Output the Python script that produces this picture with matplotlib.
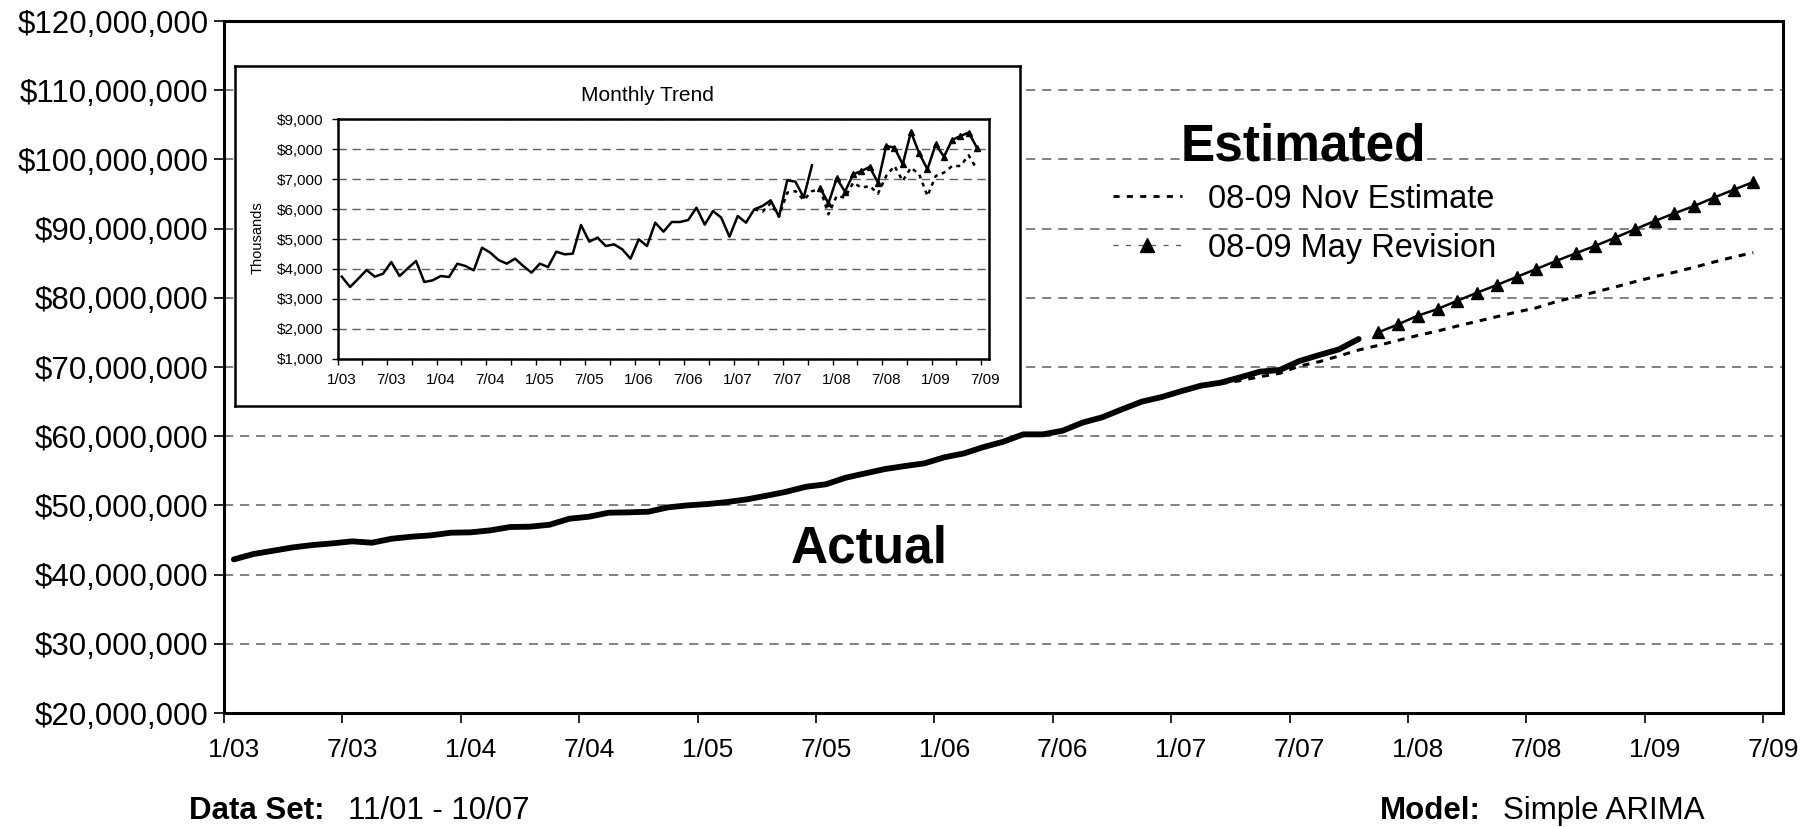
import matplotlib.pyplot as plt
import matplotlib.ticker as tck
from matplotlib.lines import Line2D
import numpy as np

plt.rcParams['font.family'] = ['Liberation Sans', 'DejaVu Sans']

# month index 0 = 1/03; points sit in the middle of their month
tick_labels = ['1/03', '7/03', '1/04', '7/04', '1/05', '7/05', '1/06',
               '7/06', '1/07', '7/07', '1/08', '7/08', '1/09', '7/09']

# 12 month running totals, $ millions
actual_total = [42.2, 42.98, 43.46, 43.94, 44.28, 44.52, 44.81, 44.61, 45.19, 45.48,
                45.68, 46.06, 46.11, 46.40, 46.88, 46.93, 47.21, 48.08, 48.37, 48.95,
                49.00, 49.09, 49.72, 50.01, 50.2, 50.49, 50.88, 51.41, 51.98, 52.70,
                53.05, 54.00, 54.64, 55.26, 55.69, 56.08, 56.95, 57.52, 58.44, 59.21,
                60.27, 60.27, 60.80, 61.96, 62.73, 63.88, 64.99, 65.65, 66.5, 67.3,
                67.74, 68.51, 69.33, 69.57, 70.87, 71.73, 72.55, 74.05]
nov_start = 50
nov_total = [67.6, 68.03, 68.60, 69.09, 70.14, 70.77, 71.59, 72.46,
             73.13, 73.85, 74.57, 75.20, 75.92, 76.60, 77.27, 77.94, 78.55, 79.44,
             80.16, 80.84, 81.56, 82.33, 83.05, 83.69, 84.41, 85.17, 85.90, 86.52]
may_start = 58
may_total = [75.01, 76.17, 77.42, 78.38, 79.58, 80.74, 81.85, 83.01, 84.16, 85.32,
             86.43, 87.53, 88.69, 89.90, 91.10, 92.21, 93.27, 94.47, 95.62, 96.73]

# monthly values, $ thousands
actual_month = [3741, 3396, 3674, 3964, 3741, 3841, 4231, 3763, 4020, 4265,
                3563, 3618, 3763, 3730, 4175, 4097, 3953, 4710, 4543, 4298,
                4175, 4343, 4097, 3875, 4175, 4064, 4577, 4487, 4510, 5468,
                4911, 5045, 4766, 4822, 4655, 4343, 4989, 4766, 5546, 5245,
                5568, 5568, 5635, 6047, 5479, 5936, 5713, 5078, 5769, 5546,
                5992, 6103, 6292, 5747, 6961, 6916, 6382, 7462]
nov_month = [5992, 5914, 6200, 5747, 6549, 6600, 6300, 6600,
             6660, 5824, 6437, 6382, 6883, 6716, 6771, 6515, 7106, 7440,
             6939, 7384, 7162, 6437, 7106, 7217, 7440, 7440, 7797, 7329]
may_month = [6694, 6192, 7028, 6582, 7162, 7273, 7407, 6883, 8109, 8053,
             7496, 8577, 7864, 7329, 8164, 7752, 8309, 8443, 8554, 8053]


def xs(start, vals):
    return np.arange(len(vals)) + start + 0.5


def month_axis(axis, size, pad, length, width, quarter_ticks=False):
    # tick marks at the start of every 6th month, labels centred half a month later
    major = np.arange(0, 79, 6)
    axis.set_xticks(major)
    axis.set_xticklabels([])
    axis.set_xticks(major + 0.5, minor=True)
    axis.set_xticklabels(tick_labels, minor=True)
    axis.tick_params(axis='x', which='major', direction='out', length=length, width=width)
    axis.tick_params(axis='x', which='minor', length=0, labelsize=size, pad=pad + length)
    if quarter_ticks:
        sec = axis.secondary_xaxis('bottom')
        sec.set_xticks(np.arange(3, 79, 6))
        sec.set_xticklabels([])
        sec.tick_params(direction='out', length=length, width=width)
        sec.spines['bottom'].set_visible(False)


def main():
    fig = plt.figure(figsize=(18.18, 8.27), dpi=100)

    # main chart
    ax = fig.add_axes([0.1232, 0.1378, 0.8575, 0.8368])
    ax.plot(xs(0, actual_total), np.array(actual_total) * 1e6, color='black', lw=4.2,
            solid_joinstyle='round', solid_capstyle='round', zorder=3)
    ax.plot(xs(nov_start, nov_total), np.array(nov_total) * 1e6, color='black', lw=2.2,
            linestyle=(0, (2.3, 2.3)), zorder=3)
    ax.plot(xs(may_start, may_total), np.array(may_total) * 1e6, color='black', lw=1.8,
            marker='^', markersize=9, zorder=3)

    ax.set_xlim(0, 79)
    ax.set_ylim(20e6, 120e6)
    month_axis(ax, 19, 11, 7, 1.2)
    ax.set_yticks(np.arange(20e6, 120e6 + 1, 10e6))
    ax.yaxis.set_major_formatter(tck.StrMethodFormatter('${x:,.0f}'))
    ax.tick_params(axis='y', direction='out', length=7, width=1.2, labelsize=22.5, pad=4)
    ax.yaxis.grid(True, color='#5f5f5f', lw=1.1, linestyle=(0, (6, 4.5)))
    ax.set_axisbelow(True)
    for spine in ax.spines.values():
        spine.set_linewidth(2.2)

    ax.text(0.7167, 0.8227, 'Estimated', transform=fig.transFigure, fontsize=37,
            fontweight='bold', ha='center', va='center')
    ax.text(0.478, 0.3356, 'Actual', transform=fig.transFigure, fontsize=37,
            fontweight='bold', ha='center', va='center')

    handles = [Line2D([], [], color='black', lw=2, linestyle=(0, (2.2, 2.6))),
               Line2D([], [], color='#555555', lw=0.9, linestyle=(0, (4, 6)),
                      marker='^', markersize=10, markerfacecolor='black',
                      markeredgecolor='black')]
    ax.legend(handles, ['08-09 Nov Estimate', '08-09 May Revision'],
              loc='upper left', bbox_to_anchor=(0.6122, 0.778),
              bbox_transform=fig.transFigure, frameon=False, fontsize=23.5,
              handlelength=2.1, handletextpad=0.8, labelspacing=0.55,
              borderpad=0, borderaxespad=0)

    # footer
    fig.text(0.104, 0.019, 'Data Set:', fontsize=22.5, fontweight='bold', va='center')
    fig.text(0.1914, 0.019, '11/01 - 10/07', fontsize=22.5, va='center')
    fig.text(0.759, 0.019, 'Model:', fontsize=22.5, fontweight='bold', va='center')
    fig.text(0.8267, 0.019, 'Simple ARIMA', fontsize=22.5, va='center')

    # inset frame
    box = fig.add_axes([0.12926, 0.50907, 0.43179, 0.41112], zorder=3)
    box.set_xticks([])
    box.set_yticks([])
    for spine in box.spines.values():
        spine.set_linewidth(1.8)

    # inset chart
    ins = fig.add_axes([0.18575, 0.56626, 0.35842, 0.28948], zorder=4)
    ins.plot(xs(0, actual_month), actual_month, color='black', lw=1.8)
    ins.plot(xs(nov_start, nov_month), nov_month, color='black', lw=1.8,
             linestyle=(0, (1.6, 1.8)))
    ins.plot(xs(may_start, may_month), may_month, color='black', lw=1.8,
             marker='^', markersize=5)
    ins.set_xlim(0, 79)
    ins.set_ylim(1000, 9000)
    month_axis(ins, 11, 5.5, 4.5, 1, quarter_ticks=True)
    ins.set_yticks(np.arange(1000, 9001, 1000))
    ins.yaxis.set_major_formatter(tck.StrMethodFormatter('${x:,.0f}'))
    ins.tick_params(axis='y', direction='out', length=4.5, width=1, labelsize=11, pad=6)
    ins.yaxis.grid(True, color='#5f5f5f', lw=1, linestyle=(0, (6, 4)))
    ins.set_axisbelow(True)
    for spine in ins.spines.values():
        spine.set_linewidth(1.8)

    fig.text(0.3562, 0.885, 'Monthly Trend', fontsize=15, ha='center', va='center', zorder=5)
    fig.text(0.1419, 0.7128, 'Thousands', fontsize=10.5, rotation=90, ha='center',
             va='center', zorder=5)

    fig.savefig('out.png', dpi=100)


if __name__ == '__main__':
    main()
